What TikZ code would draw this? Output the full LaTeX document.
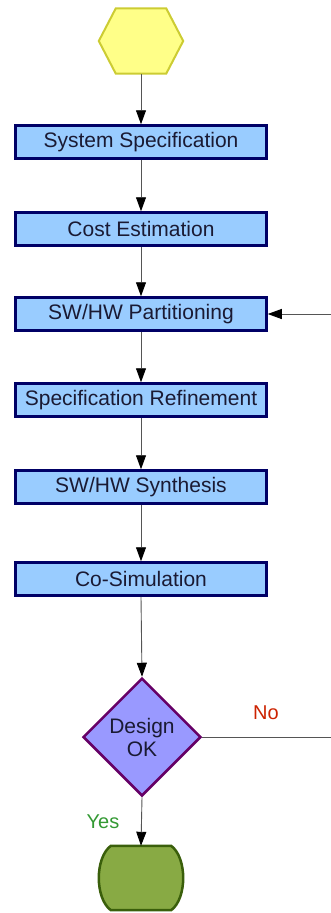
\documentclass[tikz,border=0pt]{standalone}
\usepackage{fontspec}
\setmainfont{Liberation Sans}
\usetikzlibrary{shapes.geometric,arrows.meta,calc}

\definecolor{boxfill}{HTML}{99CCFF}
\definecolor{boxline}{HTML}{000066}
\definecolor{boxtext}{HTML}{1A1A33}
\definecolor{hexfill}{HTML}{FFFF88}
\definecolor{hexline}{HTML}{CCCC33}
\definecolor{decfill}{HTML}{9999FF}
\definecolor{decline}{HTML}{660066}
\definecolor{endfill}{HTML}{88AA44}
\definecolor{endline}{HTML}{3A5F0B}
\definecolor{flowline}{HTML}{555555}
\definecolor{nored}{HTML}{CC2200}
\definecolor{yesgreen}{HTML}{339933}

\tikzset{
  stepbox/.style={draw=boxline,fill=boxfill,line width=2.5pt,minimum width=251pt,
    minimum height=33pt,inner sep=0pt,text=boxtext,font=\fontsize{21}{24}\selectfont},
  decision/.style={diamond,draw=decline,fill=decfill,line width=2.5pt,aspect=1,
    minimum width=118pt,minimum height=118pt,inner sep=0pt,align=center,
    text=boxtext,font=\fontsize{21}{23}\selectfont},
  flow/.style={draw=flowline,line width=0.9pt,-{Triangle[width=10pt,length=14pt,color=black]}},
  lbl/.style={font=\fontsize{20}{23}\selectfont,inner sep=0pt},
}

\begin{document}
\begin{tikzpicture}[x=1pt,y=-1pt]
\useasboundingbox (0,0) rectangle (331,913);

% start and end terminals
\node[minimum width=84pt,minimum height=65pt,inner sep=0pt] (start) at (141,41) {};
\draw[draw=hexline,fill=hexfill,line width=2pt] (start.west)
  -- ($(start.north west)+(17,0)$) -- ($(start.north east)+(-17,0)$)
  -- (start.east)
  -- ($(start.south east)+(-17,0)$) -- ($(start.south west)+(17,0)$) -- cycle;

\node[minimum width=84pt,minimum height=64pt,inner sep=0pt] (stop) at (141,878) {};
\draw[draw=endline,fill=endfill,line width=2.5pt] ($(stop.north west)+(12,0)$)
  -- ($(stop.north east)+(-12,0)$)
  .. controls ($(stop.north east)+(4,12)$) and ($(stop.south east)+(4,-12)$) .. ($(stop.south east)+(-12,0)$)
  -- ($(stop.south west)+(12,0)$)
  .. controls ($(stop.south west)+(-4,-12)$) and ($(stop.north west)+(-4,12)$) .. ($(stop.north west)+(12,0)$)
  -- cycle;

% process steps
\node[stepbox] (spec) at (141,142) {System Specification};
\node[stepbox] (cost) at (141,229) {Cost Estimation};
\node[stepbox] (part) at (141,314) {SW/HW Partitioning};
\node[stepbox] (refine) at (141,400) {Specification Refinement};
\node[stepbox] (synth) at (141,487) {SW/HW Synthesis};
\node[stepbox] (cosim) at (141,579) {Co-Simulation};
\node[decision] (check) at (142,737) {Design\\OK};

\node[lbl,text=nored] (no) at (266,713) {No};
\node[lbl,text=yesgreen] (yes) at (103,822) {Yes};

% flow
\draw[flow] (start) -- (spec);
\draw[flow] (spec) -- (cost);
\draw[flow] (cost) -- (part);
\draw[flow] (part) -- (refine);
\draw[flow] (refine) -- (synth);
\draw[flow] (synth) -- (cosim);
\draw[flow] (cosim.south) -- (check.north);
\draw[flow] (check.south) -- (stop.north);
\draw[flow] (check.east) -- (333,737) -- (333,314) -- (part.east);
\end{tikzpicture}
\end{document}
